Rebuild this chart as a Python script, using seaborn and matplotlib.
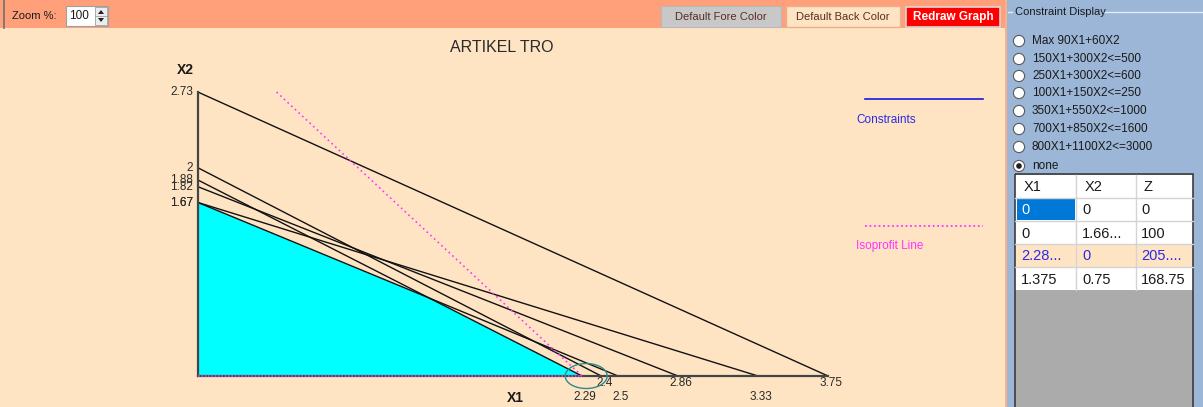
import numpy as np
import pandas as pd
import matplotlib
matplotlib.use("Agg")
import matplotlib.pyplot as plt
from matplotlib.patches import Rectangle, Ellipse, Circle, Polygon
import seaborn as sns

# ---------------- data ----------------
title = "ARTIKEL TRO"
objective_label = "Max 90X1+60X2"
obj_c1, obj_c2 = 90, 60
constraint_labels = ["150X1+300X2<=500", "250X1+300X2<=600", "100X1+150X2<=250",
                     "350X1+550X2<=1000", "700X1+850X2<=1600", "800X1+1100X2<=3000"]
coef_x1 = [150, 250, 100, 350, 700, 800]
coef_x2 = [300, 300, 150, 550, 850, 1100]
rhs = [500, 600, 250, 1000, 1600, 3000]
table_header = ["X1", "X2", "Z"]
table_x1 = ["0", "0", "2.28...", "1.375"]
table_x2 = ["0", "1.66...", "0", "0.75"]
table_z = ["0", "100", "205....", "168.75"]
corner_x1 = [0.0, 0.0, 1.375, 2.2857]
corner_x2 = [0.0, 1.6667, 0.75, 0.0]

# ---------------- style ----------------
plt.rcParams['font.family'] = ['Liberation Sans', 'DejaVu Sans']

W, H = 1203, 407
fig = plt.figure(figsize=(W / 100, H / 100), dpi=100)

BISQUE = '#FFE4C4'
SALMON = '#FFA07A'
PANEL = '#9BB6D6'
TXT = '#1A1A1A'

# ---------------- UI layer (pixel coordinates) ----------------
ui = fig.add_axes([0, 0, 1, 1], zorder=0)
ui.set_xlim(0, W)
ui.set_ylim(H, 0)
ui.axis('off')

ui.add_patch(Rectangle((0, 0), 1006, H, color=BISQUE, lw=0))
ui.add_patch(Rectangle((0, 0), 1006, 28, color=SALMON, lw=0))
ui.add_patch(Rectangle((1005, 0), 2, H, color='#F6B08C', lw=0))
ui.add_patch(Rectangle((1007, 0), W - 1007, H, color=PANEL, lw=0))
ui.plot([4, 4], [0, 28], color='#6E6E6E', lw=1.2)

# toolbar
ui.text(12, 16, "Zoom %:", fontsize=8, color=TXT, va='center', ha='left')
ui.add_patch(Rectangle((66, 6), 42, 20, facecolor='white', edgecolor='#A0A0A0', lw=0.8))
ui.text(69, 16, "100", fontsize=8.5, color=TXT, va='center', ha='left')
ui.add_patch(Rectangle((95, 7), 12, 18, facecolor='#EDEDED', edgecolor='#A0A0A0', lw=0.6))
ui.plot([95, 107], [16, 16], color='#A0A0A0', lw=0.6)
ui.add_patch(Polygon([[98, 14], [104, 14], [101, 10]], color='#202020', lw=0))
ui.add_patch(Polygon([[98, 18], [104, 18], [101, 22]], color='#202020', lw=0))

ui.add_patch(Rectangle((661, 6), 120, 21, facecolor='#C8C8C8', edgecolor='#B8B8B8', lw=0.8))
ui.text(721, 17, "Default Fore Color", fontsize=8, color='#5A2E22', va='center', ha='center')
ui.add_patch(Rectangle((786, 6), 114, 21, facecolor=BISQUE, edgecolor='#E8B090', lw=1))
ui.text(843, 17, "Default Back Color", fontsize=8, color='#5A2E22', va='center', ha='center')
ui.add_patch(Rectangle((906, 7), 94, 20, facecolor='#FF0000', edgecolor='#D8D8D8', lw=1.2))
ui.text(953, 17, "Redraw Graph", fontsize=8.5, color='white', fontweight='bold',
        va='center', ha='center')

# right panel
ui.plot([1008, 1012], [12, 12], color='#E4ECF6', lw=1)
ui.plot([1104, W], [12, 12], color='#E4ECF6', lw=1)
ui.text(1015, 12, "Constraint Display", fontsize=8, color=TXT, va='center', ha='left')
radio_labels = [objective_label] + constraint_labels + ["none"]
radio_y = [41, 59, 76, 93, 111, 129, 147, 166]
for lab, yy in zip(radio_labels, radio_y):
    ui.add_patch(Circle((1019, yy), 5.6, facecolor='white', edgecolor='#5A5A5A', lw=0.8))
    ui.text(1032, yy, lab, fontsize=8.5, color=TXT, va='center', ha='left')
ui.add_patch(Circle((1019, radio_y[-1]), 2.8, color='#202020', lw=0))

# table
tx0, tx1 = 1015, 1193
col_x = [1015, 1076, 1136, 1193]
row_y = [175, 198, 221, 244, 267, 290]
ui.add_patch(Rectangle((tx0, 290), tx1 - tx0, H - 290, color='#ABABAB', lw=0))
ui.add_patch(Rectangle((tx0, 175), tx1 - tx0, 115, color='white', lw=0))
ui.add_patch(Rectangle((tx0, 244), tx1 - tx0, 23, color=BISQUE, lw=0))
ui.add_patch(Rectangle((1017, 199), 58, 21, color='#0078D7', lw=0))
for yy in row_y[1:-1]:
    ui.plot([tx0, tx1], [yy, yy], color='#D4D4D4', lw=1)
for xx in col_x[1:-1]:
    ui.plot([xx, xx], [175, 290], color='#D4D4D4', lw=1)
ui.add_patch(Rectangle((tx0, 174), tx1 - tx0, H - 172, facecolor='none',
                       edgecolor='#3C3C3C', lw=1.2))
text_off = [6, 6, 5]
for j, h in enumerate(table_header):
    ui.text(col_x[j] + text_off[j] + 3, 187, h, fontsize=10.5, color=TXT,
            va='center', ha='left')
cols = [table_x1, table_x2, table_z]
for i in range(4):
    for j in range(3):
        c = TXT
        if i == 0 and j == 0:
            c = 'white'
        elif i == 2:
            c = '#2A2AE8'
        ui.text(col_x[j] + text_off[j], (row_y[i + 1] + row_y[i + 2]) / 2 + 1,
                cols[j][i], fontsize=10.5, color=c, va='center', ha='left')

# legend
ui.plot([865, 983], [99, 99], color='#1818E0', lw=1.2)
ui.text(856, 120, "Constraints", fontsize=8.5, color='#2A2AE8', va='center', ha='left')
ui.plot([865, 983], [226, 226], color='#FF33FF', lw=1.3, linestyle=(0, (1, 1.5)))
ui.text(856, 246, "Isoprofit Line", fontsize=8.5, color='#FF33FF', va='center', ha='left')

ui.text(502, 47, title, fontsize=11.5, color='#2A2A2A', va='center', ha='center')
ui.text(185, 70, "X2", fontsize=10, color=TXT, fontweight='bold', va='center', ha='center')
ui.text(515, 398, "X1", fontsize=10, color=TXT, fontweight='bold', va='center', ha='center')

# ---------------- chart layer (data coordinates) ----------------
X0PX, Y0PX, SX, SY = 198, 376, 168.0, 104.1
ax = fig.add_axes([5 / W, 0, 1000 / W, (H - 28) / H], zorder=1)
ax.set_xlim((5 - X0PX) / SX, (1005 - X0PX) / SX)
ax.set_ylim((Y0PX - H) / SY, (Y0PX - 28) / SY)
ax.patch.set_alpha(0)
ax.axis('off')

ix = np.array(rhs, float) / np.array(coef_x1, float)
iy = np.array(rhs, float) / np.array(coef_x2, float)

# feasible region
cx = np.array(corner_x1)
cy = np.array(corner_x2)
ax.fill(cx, cy, color='#00FFFF', lw=0, zorder=1)

# constraint lines
rows = []
for k, lab in enumerate(constraint_labels):
    rows.append({'x1': 0.0, 'x2': iy[k], 'constraint': lab})
    rows.append({'x1': ix[k], 'x2': 0.0, 'constraint': lab})
df = pd.DataFrame(rows)
sns.lineplot(data=df, x='x1', y='x2', units='constraint', estimator=None, sort=False,
             color='#111111', lw=1.0, ax=ax, legend=False, zorder=2)

# axes lines
xmax, ymax = ix.max(), iy.max()
sns.lineplot(x=[0, 0], y=[0, ymax], estimator=None, sort=False,
             color='#454545', lw=1.6, ax=ax, zorder=3)
sns.lineplot(x=[0, xmax], y=[0, 0], estimator=None, sort=False,
             color='#454545', lw=1.6, ax=ax, zorder=3)

# optimum & isoprofit line
z = obj_c1 * cx + obj_c2 * cy
k_opt = int(np.argmax(z))
z_opt = z[k_opt]
x_top = (z_opt - obj_c2 * ymax) / obj_c1
sns.lineplot(x=[x_top, z_opt / obj_c1], y=[ymax, 0], estimator=None, sort=False,
             color='#FF33FF', lw=1.2, linestyle=(0, (1, 2)), ax=ax, zorder=4)
sns.lineplot(x=[0, cx[k_opt]], y=[0, 0], estimator=None, sort=False,
             color='#CC44FF', lw=1.2, linestyle=(0, (1, 1)), ax=ax, zorder=4)
ax.add_patch(Ellipse((cx[k_opt] + 0.025, 0.0), 0.25, 0.24, facecolor='none',
                     edgecolor='#2A8C8C', lw=1.0, zorder=5))


def fmt(v):
    return f"{v:.2f}".rstrip('0').rstrip('.')


PT = 0.72  # points per pixel at 100 dpi
for v in iy:
    ax.annotate(fmt(v), (0, v), xytext=(-5 * PT, 0), textcoords='offset points',
                ha='right', va='center', fontsize=8.5, color='#2A2A2A')
for i, v in enumerate(sorted(ix)):
    dy = -21 if i % 2 == 0 else -7
    ax.annotate(fmt(v), (v, 0), xytext=(3 * PT, dy * PT), textcoords='offset points',
                ha='center', va='center', fontsize=8.5, color='#2A2A2A')

fig.savefig('out.png', dpi=100)
